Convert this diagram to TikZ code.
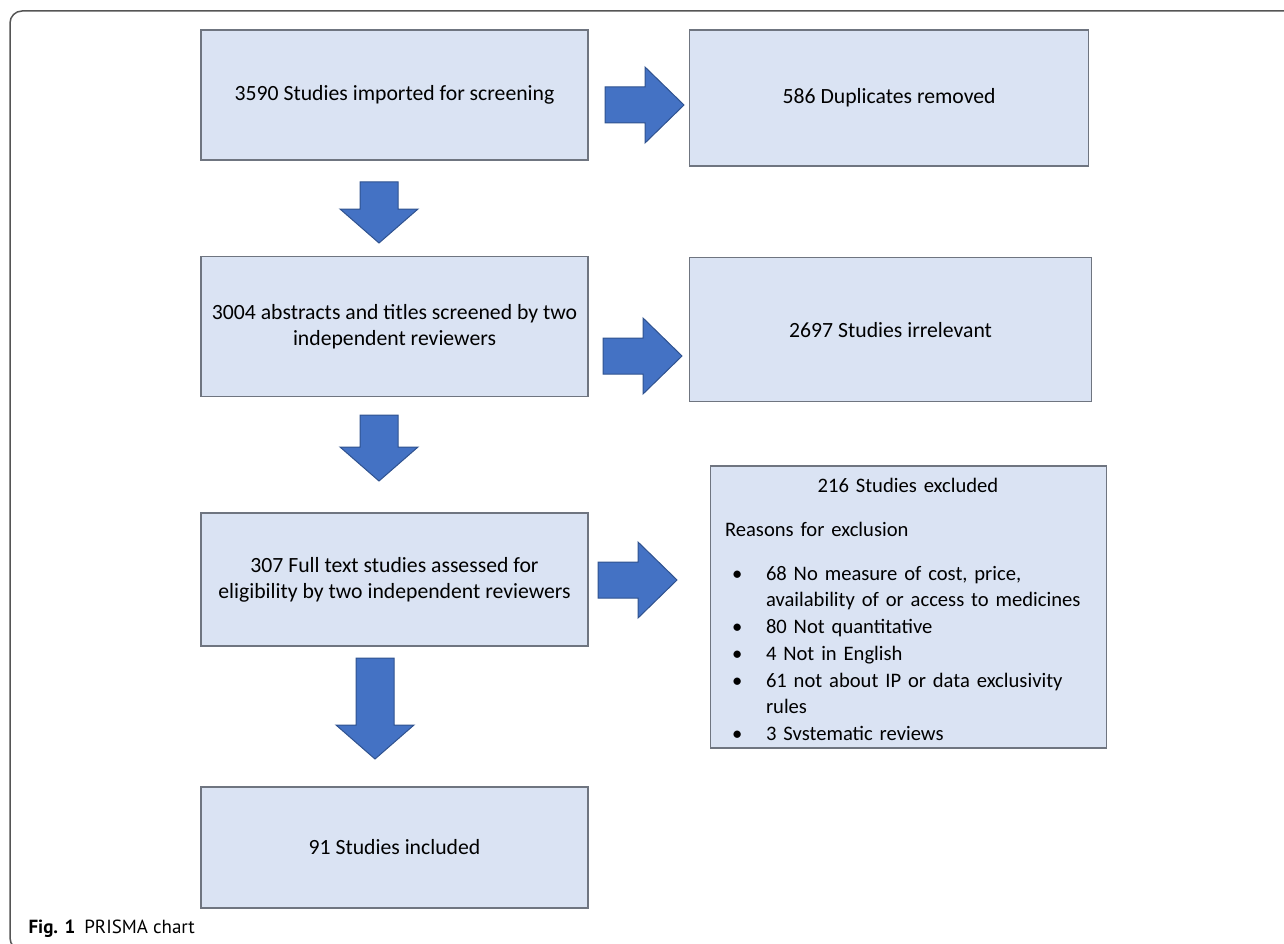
\documentclass[tikz,border=0pt]{standalone}
\usepackage{fontspec}
\setmainfont{Carlito}
\newfontfamily\captionfont{PT Sans}
\usetikzlibrary{positioning, calc}
\definecolor{boxfill}{HTML}{DAE3F3}
\definecolor{boxline}{HTML}{6F7580}
\definecolor{arrowfill}{HTML}{4472C4}
\definecolor{arrowline}{HTML}{2F528F}
\definecolor{framegray}{HTML}{555555}

\tikzset{
    pics/dblock/.style={code={
        \draw[bigarrow] (-19,0) -- (19,0) -- (19,#1-34) -- (39,#1-34) -- (0,#1)
            -- (-39,#1-34) -- (-19,#1-34) -- cycle;}},
    pics/rblock/.style={code={
        \draw[bigarrow] (0,-18) -- (40,-18) -- (40,-38) -- (79,0) -- (40,38)
            -- (40,18) -- (0,18) -- cycle;}}
}

\begin{document}
\begin{tikzpicture}[
    x=1pt, y=-1pt,
    box/.style={rectangle, draw=boxline, fill=boxfill, line width=1.6pt,
                minimum width=387pt, minimum height=#1, align=center,
                font=\fontsize{21.7pt}{26.7pt}\selectfont},
    box/.default=130pt,
    bigarrow/.style={fill=arrowfill, draw=arrowline, line width=1pt},
    frame/.style={draw=framegray, line width=1.5pt, rounded corners=12pt},
    caption/.style={font=\captionfont\fontsize{19pt}{23pt}\selectfont, anchor=base west}
]
\useasboundingbox (0,0) rectangle (1284,944);
\clip (0,0) rectangle (1284,944);

% Outer frame
\draw[frame] (10,11) rectangle (1310,950);

% Main column
\node[box=130pt] (import) at (394.5,95) {3590 Studies imported for screening};
\node[box=140pt, below=95pt of import] (screen) {3004 abstracts and titles screened by two\\independent reviewers};
\node[box=133pt, below=115pt of screen] (fulltext) {307 Full text studies assessed for\\eligibility by two independent reviewers};
\node[box=121pt, below=139pt of fulltext] (incl) {91 Studies included};

% Side boxes
\node[box=136pt, minimum width=399pt, right=100pt of import, yshift=-3pt] (dupl) {586 Duplicates removed};
\node[box=144pt, minimum width=402pt, right=100pt of screen, yshift=-3pt] (irrel) {2697 Studies irrelevant};
\node[box=282pt, minimum width=396pt, right=121pt of fulltext, yshift=-27.5pt] (excl) {};
\node[anchor=north west, inner sep=0pt, text width=366pt, align=left,
      font=\fontsize{20.6pt}{26.7pt}\selectfont] (reasons) at ($(excl.north west)+(15,8)$) {%
  {\centering\strut 216 Studies excluded\par}
  \vspace{17.3pt}
  \noindent Reasons for exclusion\par
  \vspace{17.3pt}
  \noindent\begin{tabular}[t]{@{}l@{}l@{}}
    \makebox[41pt][l]{\hspace{7pt}\textbullet} & 68 No measure of cost, price,\\
     & availability of or access to medicines\\
    \makebox[41pt][l]{\hspace{7pt}\textbullet} & 80 Not quantitative\\
    \makebox[41pt][l]{\hspace{7pt}\textbullet} & 4 Not in English\\
    \makebox[41pt][l]{\hspace{7pt}\textbullet} & 61 not about IP or data exclusivity\\
     & rules\\
    \makebox[41pt][l]{\hspace{7pt}\textbullet} & 3 Svstematic reviews
  \end{tabular}};

% Block arrows
\pic at (605,105) {rblock};
\pic at (603,356) {rblock};
\pic at (598,580) {rblock};
\pic at (379,182) {dblock=61};
\pic at (379,415) {dblock=66};
\pic at (375,658) {dblock=101};

% Caption
\node[caption] (cap) at (25,933) {\textbf{Fig. 1}\hspace{9pt}PRISMA chart};

\end{tikzpicture}
\end{document}
